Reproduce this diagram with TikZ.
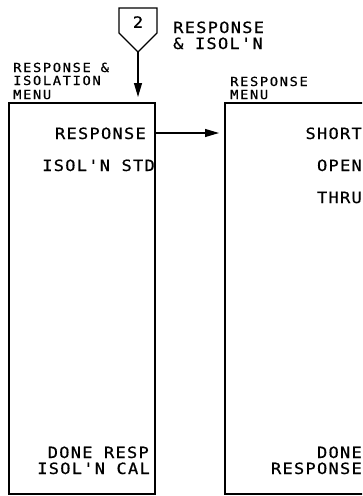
\documentclass[tikz,border=0pt]{standalone}
\usepackage{fontspec}
\usetikzlibrary{arrows.meta}
\newfontfamily\plotfont[FakeStretch=1.1,LetterSpace=8,FakeBold=0.6]{DejaVu Sans Mono}
\newfontfamily\plotlblfont[FakeStretch=1.1,LetterSpace=13,FakeBold=0.6]{DejaVu Sans Mono}
\tikzset{
  menu/.style={inner sep=0pt,font=\plotfont\fontsize{15.5}{17}\selectfont},
  lbl/.style={inner sep=0pt,font=\plotlblfont\fontsize{12.5}{14}\selectfont},
  boxline/.style={line width=1.1pt},
  arr/.style={line width=1.1pt,-{Triangle[length=14pt,width=8pt]},shorten >=6pt}
}
\begin{document}
\begin{tikzpicture}[x=1pt,y=-1pt]
\useasboundingbox (0,0) rectangle (362,496);
\clip (0,0) rectangle (362,496);
% softkey pentagon
\draw[boxline] (119,8) -- (157,8) -- (157,33) -- (138,52) -- (119,33) -- cycle;
\node[menu] (key) at (138,22) {2};
\coordinate (keytip) at (138,52);
\node[menu,anchor=base west] (kl1) at (173,33) {RESPONSE};
\node[menu,anchor=base west] (kl2) at (173,49) {\& ISOL'N};
% left menu
\node[lbl,anchor=base west] (ll1) at (13,72) {RESPONSE \&};
\node[lbl,anchor=base west] (ll2) at (13,85) {ISOLATION};
\node[lbl,anchor=base west] (ll3) at (13,99) {MENU};
\draw[boxline] (9,103) rectangle (155,494);
\coordinate (ltop) at (138,103);
\node[menu,anchor=base east] (lr) at (146,139) {RESPONSE};
\node[menu,anchor=base east] (li) at (155,171) {ISOL'N STD};
\node[menu,anchor=base east] (ld) at (149,458) {DONE RESP};
\node[menu,anchor=base east] (lc) at (150,474) {ISOL'N CAL};
% right menu
\node[lbl,anchor=base west] (rl1) at (230,86) {RESPONSE};
\node[lbl,anchor=base west] (rl2) at (230,99) {MENU};
\draw[boxline] (225,103) rectangle (380,494);
\node[menu,anchor=base east] (rs) at (362,139) {SHORT};
\node[menu,anchor=base east] (ro) at (362,171) {OPEN};
\node[menu,anchor=base east] (rt) at (362,203) {THRU};
\node[menu,anchor=base east] (rd) at (362,458) {DONE};
\node[menu,anchor=base east] (rr) at (362,474) {RESPONSE};
\coordinate (lright) at (155,133);
\coordinate (rleft) at (225,133);
% arrows
\draw[arr] (keytip) -- (ltop);
\draw[arr] (lright) -- (rleft);
\end{tikzpicture}
\end{document}
